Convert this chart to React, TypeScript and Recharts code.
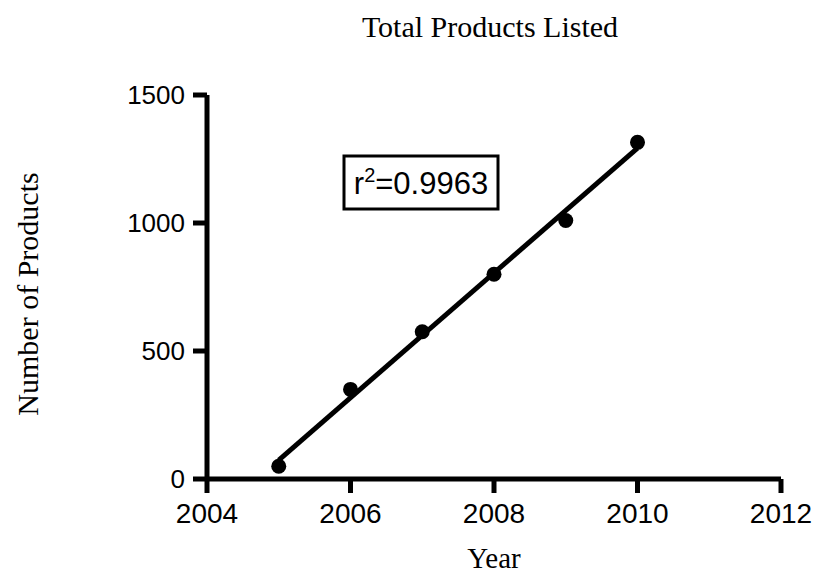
import React from 'react';
import { ComposedChart, Scatter, Line, XAxis, YAxis } from 'recharts';

// yearly totals
const years = [2005, 2006, 2007, 2008, 2009, 2010];
const products = [50, 350, 575, 800, 1010, 1315];

const xTicks = [2004, 2006, 2008, 2010, 2012];
const yTicks = [0, 500, 1000, 1500];

const points = years.map((year, i) => ({ year, count: products[i] }));

// least-squares line through the points, drawn from first to last year
const fitLine = (() => {
  const n = years.length;
  const mx = years.reduce((a, b) => a + b, 0) / n;
  const my = products.reduce((a, b) => a + b, 0) / n;
  let sxy = 0;
  let sxx = 0;
  years.forEach((x, i) => {
    sxy += (x - mx) * (products[i] - my);
    sxx += (x - mx) * (x - mx);
  });
  const slope = sxy / sxx;
  const at = (x: number) => my + slope * (x - mx);
  const first = years[0];
  const last = years[n - 1];
  return [
    { year: first, fit: at(first) },
    { year: last, fit: at(last) },
  ];
})();

const sans = '"Liberation Sans", Arial, sans-serif';
const serif = '"Liberation Serif", "Times New Roman", serif';

const axisStyle = { stroke: '#000', strokeWidth: 5 };

const Dot = (props: any) => <circle cx={props.cx} cy={props.cy} r={7.5} fill="#000" />;

const App = () => {
  return (
    <div style={{ position: 'fixed', left: 0, top: 0, background: '#fff' }}>
      <ComposedChart
        width={817}
        height={573}
        margin={{ top: 95, right: 36, bottom: 0, left: 107 }}
      >
        <XAxis
          type="number"
          dataKey="year"
          domain={[2004, 2012]}
          ticks={xTicks}
          allowDecimals={false}
          height={94}
          tickSize={14}
          tickMargin={10}
          axisLine={axisStyle}
          tickLine={axisStyle}
          tick={{ fill: '#000', fontSize: 28, fontFamily: sans }}
        />
        <YAxis
          type="number"
          domain={[0, 1500]}
          ticks={yTicks}
          width={100}
          tickSize={14}
          tickMargin={8}
          axisLine={axisStyle}
          tickLine={axisStyle}
          tick={{ fill: '#000', fontSize: 26, fontFamily: sans }}
        />
        <Line
          data={fitLine}
          dataKey="fit"
          type="linear"
          stroke="#000"
          strokeWidth={5}
          dot={false}
          isAnimationActive={false}
        />
        <Scatter
          data={points}
          dataKey="count"
          fill="#000"
          shape={Dot}
          isAnimationActive={false}
        />

        <text x={490} y={37} textAnchor="middle" fontFamily={serif} fontSize={30} fill="#000">
          Total Products Listed
        </text>
        <text
          x={0}
          y={0}
          transform="translate(38, 294) rotate(-90)"
          textAnchor="middle"
          fontFamily={serif}
          fontSize={30}
          fill="#000"
        >
          Number of Products
        </text>
        <text x={494} y={568} textAnchor="middle" fontFamily={serif} fontSize={29} fill="#000">
          Year
        </text>

        <g>
          <rect x={344} y={156} width={154} height={53} fill="#fff" stroke="#000" strokeWidth={3} />
          <text x={421} y={194} textAnchor="middle" fontFamily={sans} fontSize={31} fill="#000">
            r<tspan dy={-12} fontSize={20}>2</tspan>
            <tspan dy={12}>=0.9963</tspan>
          </text>
        </g>
      </ComposedChart>
    </div>
  );
};

export default App;
